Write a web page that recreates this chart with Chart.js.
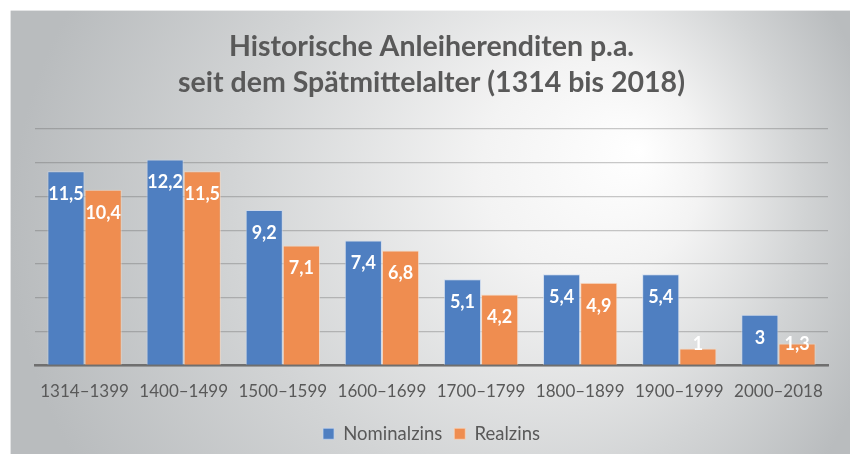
<!DOCTYPE html>
<html>
<head>
<meta charset="utf-8">
<script src="https://cdn.jsdelivr.net/npm/chart.js@4"></script>
<style>
  html, body { margin: 0; padding: 0; background: #ffffff; }
  #wrap { width: 850px; height: 454px; position: relative; }
</style>
</head>
<body>
<div id="wrap"><canvas id="c" width="850" height="454"></canvas></div>
<script>
const categories = ['1314–1399', '1400–1499', '1500–1599', '1600–1699', '1700–1799', '1800–1899', '1900–1999', '2000–2018'];
const nominalzins = [11.5, 12.2, 9.2, 7.4, 5.1, 5.4, 5.4, 3];
const realzins = [10.4, 11.5, 7.1, 6.8, 4.2, 4.9, 1, 1.3];
const seriesNames = ['Nominalzins', 'Realzins'];
const titleLines = ['Historische Anleiherenditen p.a.', 'seit dem Spätmittelalter (1314 bis 2018)'];

const FONT = 'Lato, "Open Sans", sans-serif';

const bgPlugin = {
  id: 'bg',
  beforeDraw(chart) {
    const ctx = chart.ctx;
    ctx.save();
    ctx.fillStyle = '#ffffff';
    ctx.fillRect(0, 0, chart.width, chart.height);
    const g = ctx.createRadialGradient(640, 150, 0, 450, 230, 440);
    g.addColorStop(0, '#ffffff');
    g.addColorStop(0.25, '#f3f3f3');
    g.addColorStop(0.65, '#d2d4d5');
    g.addColorStop(1, '#b9bcbe');
    ctx.fillStyle = g;
    ctx.fillRect(10, 10, chart.width - 10, chart.height - 10);
    ctx.strokeStyle = 'rgba(255,255,255,0.6)';
    ctx.lineWidth = 1;
    ctx.beginPath();
    ctx.moveTo(10, 10.5); ctx.lineTo(chart.width, 10.5);
    ctx.moveTo(10.5, 10); ctx.lineTo(10.5, chart.height);
    ctx.stroke();
    ctx.restore();
  }
};

const labelPlugin = {
  id: 'barLabels',
  afterDatasetsDraw(chart) {
    const ctx = chart.ctx;
    ctx.save();
    ctx.font = 'bold 18px ' + FONT;
    ctx.fillStyle = '#ffffff';
    ctx.textAlign = 'center';
    ctx.textBaseline = 'middle';
    chart.data.datasets.forEach((ds, di) => {
      const meta = chart.getDatasetMeta(di);
      meta.data.forEach((bar, i) => {
        const v = ds.data[i];
        const txt = String(v).replace('.', ',');
        const y = Math.min(bar.y + 23, bar.base - 21);
        ctx.fillText(txt, bar.x, y);
      });
    });
    ctx.restore();
  }
};

new Chart(document.getElementById('c'), {
  type: 'bar',
  data: {
    labels: categories,
    datasets: [
      { label: seriesNames[0], data: nominalzins, backgroundColor: '#4f7fc1', borderColor: 'rgba(200,215,240,0.7)', borderWidth: 1 },
      { label: seriesNames[1], data: realzins, backgroundColor: '#ef8d50', borderColor: 'rgba(250,215,190,0.7)', borderWidth: 1 }
    ]
  },
  options: {
    responsive: false,
    animation: false,
    events: [],
    layout: { padding: { left: 35, right: 22, top: 10, bottom: 1 } },
    datasets: { bar: { categoryPercentage: 0.75, barPercentage: 1 } },
    scales: {
      x: {
        grid: { display: false, drawTicks: false },
        border: { display: true, color: '#6f6f6f', width: 2.5 },
        ticks: { color: '#595959', font: { family: FONT, size: 17 }, padding: 16, maxRotation: 0 },
        afterFit(s) { s.height = 47; }
      },
      y: {
        min: 0, max: 14,
        ticks: { display: false, stepSize: 2 },
        grid: { color: 'rgba(100,100,100,0.35)', lineWidth: 1.3, drawTicks: false },
        border: { display: false },
        afterFit(s) { s.width = 0; }
      }
    },
    plugins: {
      title: {
        display: true,
        text: titleLines,
        color: '#595959',
        font: { family: FONT, size: 28.5, weight: 'bold', lineHeight: 1.263 },
        padding: { top: 19, bottom: 28 }
      },
      legend: {
        position: 'bottom',
        labels: { color: '#595959', font: { family: FONT, size: 18.5 }, boxWidth: 11, boxHeight: 11, padding: 12 }
      },
      tooltip: { enabled: false }
    }
  },
  plugins: [bgPlugin, labelPlugin]
});
</script>
</body>
</html>
